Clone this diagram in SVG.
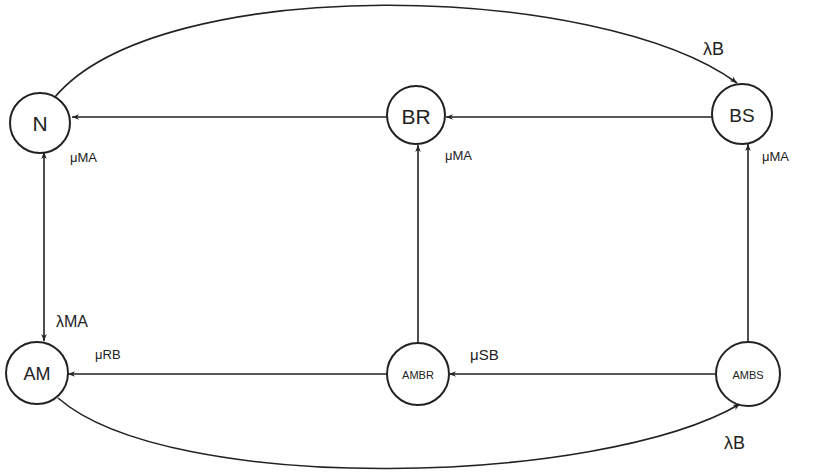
<svg xmlns="http://www.w3.org/2000/svg" width="819" height="474" viewBox="0 0 819 474">
<style>
.node circle{fill:#fff;stroke:#222;stroke-width:2}
.node text{font-family:"Liberation Sans",Arial,sans-serif;fill:#222;text-anchor:middle;dominant-baseline:central}
.edge{fill:none;stroke:#222;stroke-width:1.6}
.lbl{font-family:"Liberation Sans",Arial,sans-serif;fill:#222}
</style>
<defs>
<marker id="arr" viewBox="0 0 10 10" refX="10" refY="5" markerWidth="7" markerHeight="7" orient="auto-start-reverse" markerUnits="userSpaceOnUse">
<path d="M0,1 L10,5 L0,9 L3,5 Z" fill="#222"/>
</marker>
</defs>
<rect width="819" height="474" fill="#fff"/>
<g id="connectors">
<path class="edge" d="M387,117 L72,117" marker-end="url(#arr)"/>
<path class="edge" d="M712,117 L446,117" marker-end="url(#arr)"/>
<path class="edge" d="M44,152 L44,341" marker-start="url(#arr)" marker-end="url(#arr)"/>
<path class="edge" d="M418,343 L418,145" marker-end="url(#arr)"/>
<path class="edge" d="M748,342 L748,144" marker-end="url(#arr)"/>
<path class="edge" d="M387,374 L68,374" marker-end="url(#arr)"/>
<path class="edge" d="M716,374 L449,374" marker-end="url(#arr)"/>
<path class="edge" d="M55,97 C160,-28 600,-18 737,83" marker-end="url(#arr)"/>
<path class="edge" d="M58,398 C170,496 600,486 740,404" marker-end="url(#arr)"/>
</g>
<g id="N" class="node"><circle cx="40" cy="123" r="30"/><text x="40" y="123" style="font-size:21px">N</text></g>
<g id="BR" class="node"><circle cx="416" cy="115" r="29"/><text x="416" y="116" style="font-size:21px">BR</text></g>
<g id="BS" class="node"><circle cx="742" cy="114" r="30"/><text x="742" y="115" style="font-size:19px">BS</text></g>
<g id="AM" class="node"><circle cx="37" cy="373" r="31"/><text x="37" y="374" style="font-size:18px">AM</text></g>
<g id="AMBR" class="node"><circle cx="418" cy="374" r="31"/><text x="418" y="375" style="font-size:11px">AMBR</text></g>
<g id="AMBS" class="node"><circle cx="748" cy="374" r="32"/><text x="748" y="375" style="font-size:11px">AMBS</text></g>
<g id="labels">
<text class="lbl" x="70" y="162" style="font-size:13px">μMA</text>
<text class="lbl" x="445" y="160" style="font-size:13px">μMA</text>
<text class="lbl" x="762" y="161" style="font-size:13px">μMA</text>
<text class="lbl" x="56" y="327" style="font-size:16px">λMA</text>
<text class="lbl" x="95" y="359" style="font-size:13px">μRB</text>
<text class="lbl" x="470" y="360" style="font-size:15px">μSB</text>
<text class="lbl" x="703" y="55" style="font-size:18px">λB</text>
<text class="lbl" x="724" y="449" style="font-size:18px">λB</text>
</g>
</svg>
